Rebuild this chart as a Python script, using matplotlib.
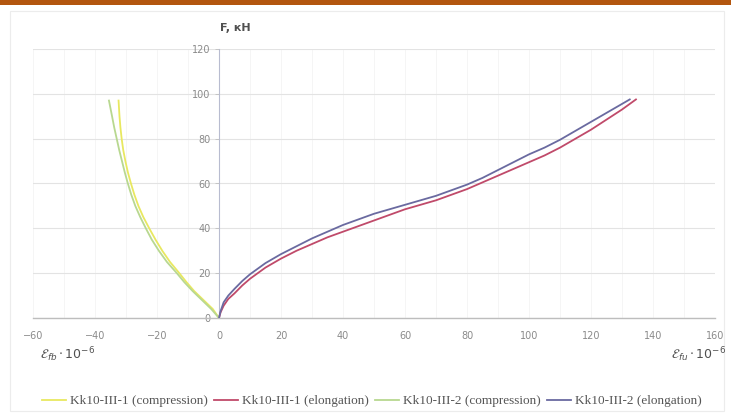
import matplotlib
matplotlib.use("Agg")
import matplotlib.pyplot as plt
from matplotlib.patches import Rectangle

# ---- data ----
comp1_x = [0, -2, -5, -8, -10.5, -12.8, -15.8, -18.3, -20.5, -22.5, -24.4, -26, -27.3, -28.4,
           -29.4, -30.2, -30.9, -31.4, -31.8, -32.1, -32.4]
comp1_y = [0, 4, 8, 12, 16, 20, 25, 30, 35, 40, 45, 50, 55, 60, 65, 70, 75, 80, 85, 90, 97]
comp2_x = [0, -2.5, -5.5, -8.5, -11.2, -13.6, -16.8, -19.4, -21.7, -23.6, -25.4, -27, -28.3, -29.4,
           -30.4, -31.3, -32.2, -33, -33.8, -34.5, -35.5]
comp2_y = [0, 4, 8, 12, 16, 20, 25, 30, 35, 40, 45, 50, 55, 60, 65, 70, 75, 80, 85, 90, 97]
elong1_x = [0, 0.5, 1.5, 3, 5, 7.5, 10, 15, 20, 25, 30, 35, 40, 45, 50, 55, 60, 65, 70, 75,
            80, 85, 90, 95, 100, 105, 110, 115, 120, 125, 130, 134.5]
elong1_y = [0, 2.5, 5.5, 8.5, 11, 14.5, 17.5, 22.5, 26.5, 30, 33, 36, 38.5, 41, 43.5, 46,
            48.5, 50.5, 52.5, 55, 57.5, 60.5, 63.5, 66.5, 69.5, 72.5, 76, 80, 84, 88.5, 93, 97.5]
elong2_x = [0, 0.5, 1.5, 3, 5, 7.5, 10, 15, 20, 25, 30, 35, 40, 45, 50, 55, 60, 65, 70, 75,
            80, 85, 90, 95, 100, 105, 110, 115, 120, 125, 130, 132.5]
elong2_y = [0, 3, 7, 10, 13, 16.5, 19.5, 24.5, 28.5, 32, 35.5, 38.5, 41.5, 44, 46.5, 48.5,
            50.5, 52.5, 54.5, 57, 59.5, 62.5, 66, 69.5, 73, 76, 79.5, 83.5, 87.5, 91.5, 95.5, 97.5]

labels = ["Kk10-III-1 (compression)", "Kk10-III-1 (elongation)",
          "Kk10-III-2 (compression)", "Kk10-III-2 (elongation)"]
colors = ["#e8e860", "#c04a6a", "#b8d890", "#6a6aa0"]

xticks = [-60, -40, -20, 0, 20, 40, 60, 80, 100, 120, 140, 160]
yticks = [0, 20, 40, 60, 80, 100, 120]

fig = plt.figure(figsize=(7.31, 4.15), dpi=100)
fig.patch.set_facecolor("white")
fig.patches.append(Rectangle((0, 1 - 5/415), 1, 5/415, transform=fig.transFigure,
                             facecolor="#b3560f", edgecolor="none", zorder=0))
fig.patches.append(Rectangle((10/731, 4/415), 714/731, 400/415, transform=fig.transFigure,
                             facecolor="none", edgecolor="#ececec", lw=0.8, zorder=0))

ax = fig.add_axes([33/731, (415-318)/415, (715-33)/731, (318-49)/415])
ax.set_xlim(-60, 160)
ax.set_ylim(0, 120)

series = [(comp1_x, comp1_y), (elong1_x, elong1_y), (comp2_x, comp2_y), (elong2_x, elong2_y)]
for (xs, ys), lab, c in zip(series, labels, colors):
    ax.plot(xs, ys, color=c, lw=1.3, label=lab, zorder=3, solid_joinstyle="round")

for s in ["top", "right"]:
    ax.spines[s].set_visible(False)
ax.spines["left"].set_position(("data", 0))
ax.spines["left"].set_color("#b8bcd0")
ax.spines["left"].set_linewidth(0.8)
ax.spines["bottom"].set_color("#bdbdbd")
ax.spines["bottom"].set_linewidth(1.0)

ax.set_xticks(xticks)
ax.set_yticks(yticks)
ax.set_xticks(range(-60, 161, 10), minor=True)
ax.tick_params(axis="x", length=0, pad=9, labelsize=7, labelcolor="#8a8a8a")
ax.tick_params(axis="y", length=3, width=0.6, color="#c0c0c0", pad=3, labelsize=7, labelcolor="#8a8a8a")
ax.tick_params(which="minor", length=0)
ax.grid(axis="y", which="major", color="#e3e3e3", lw=0.8)
ax.grid(axis="x", which="both", color="#f4f4f4", lw=0.6)
ax.set_axisbelow(True)

fig.text(235/731, 1 - 28/415, "F, кН", ha="center", va="center", fontsize=8,
         color="#505050", fontweight="bold")
fig.text(40/731, 1 - 355/415, r"$\mathcal{E}_{fb}\cdot 10^{-6}$", ha="left", va="center",
         fontsize=9, color="#505050")
fig.text(726/731, 1 - 355/415, r"$\mathcal{E}_{fu}\cdot 10^{-6}$", ha="right", va="center",
         fontsize=9, color="#505050")

leg = fig.legend(loc="center", bbox_to_anchor=(372/731, 1 - 401/415), ncol=4,
                 frameon=False, prop={"family": "Liberation Serif", "size": 9.5},
                 handlelength=1.8, handletextpad=0.3, columnspacing=0.5)
for t in leg.get_texts():
    t.set_color("#555555")

fig.savefig("out.png", dpi=100, facecolor="white")
